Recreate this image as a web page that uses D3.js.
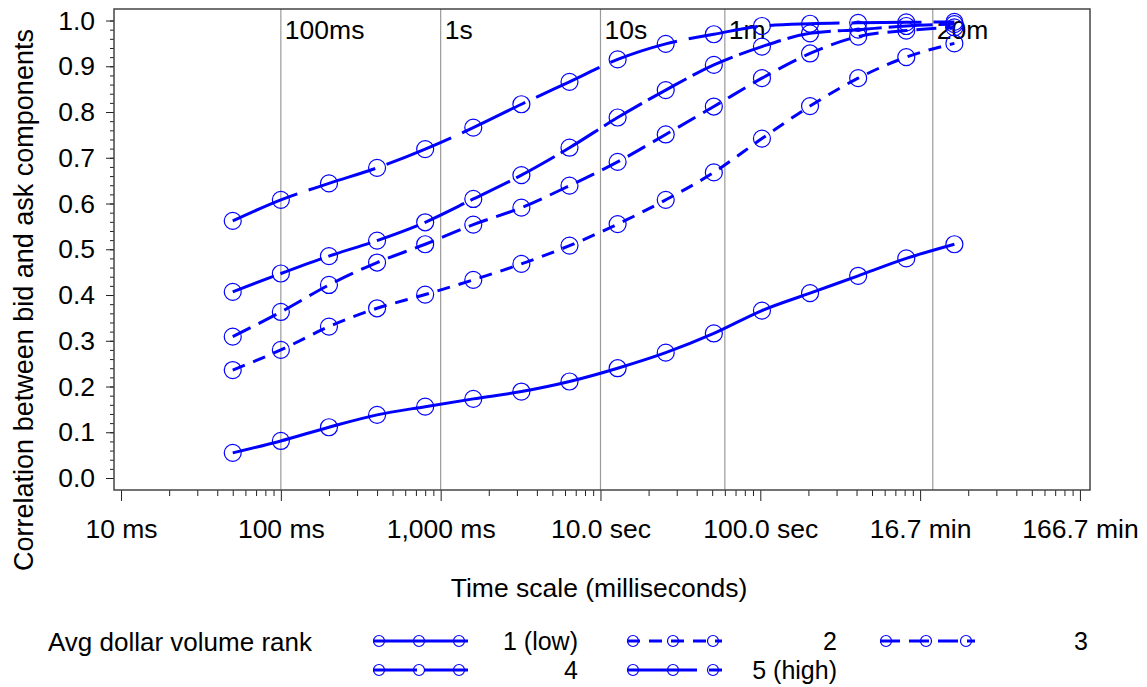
<!DOCTYPE html>
<html>
<head>
<meta charset="utf-8">
<script src="https://cdn.jsdelivr.net/npm/d3@7"></script>
<style>
  body { margin: 0; background: #fff; }
  text { font-family: Arial, "Liberation Sans", sans-serif; fill: #000; }
</style>
</head>
<body>
<svg width="1147" height="687"></svg>
<script>
// time scale of each point, in milliseconds
var timeMs = [50, 100, 200, 400, 800, 1600, 3200, 6400, 12800, 25600, 51200,
    102400, 204800, 409600, 819200, 1638400];

// correlation by avg dollar volume rank
var rank1 = [0.055, 0.081, 0.111, 0.138, 0.156, 0.173, 0.189, 0.211, 0.240, 0.274,
    0.316, 0.366, 0.404, 0.442, 0.480, 0.511];
var rank2 = [0.236, 0.280, 0.331, 0.371, 0.401, 0.433, 0.468, 0.508, 0.555, 0.608,
    0.668, 0.742, 0.813, 0.874, 0.920, 0.950];
var rank3 = [0.309, 0.363, 0.422, 0.471, 0.511, 0.554, 0.591, 0.639, 0.691, 0.751,
    0.812, 0.874, 0.928, 0.965, 0.978, 0.985];
var rank4 = [0.407, 0.447, 0.485, 0.519, 0.559, 0.610, 0.662, 0.722, 0.788, 0.848,
    0.903, 0.943, 0.972, 0.980, 0.988, 0.992];
var rank5 = [0.562, 0.608, 0.644, 0.678, 0.719, 0.766, 0.817, 0.866, 0.915, 0.949,
    0.970, 0.988, 0.993, 0.995, 0.996, 0.997];

var rankNames = ["1 (low)", "2", "3", "4", "5 (high)"];

var xTickValues = [10, 100, 1000, 10000, 100000, 1000000, 10000000];
var xTickLabels = ["10 ms", "100 ms", "1,000 ms", "10.0 sec", "100.0 sec", "16.7 min", "166.7 min"];

var refValues = [100, 1000, 10000, 60000, 1200000];
var refLabels = ["100ms", "1s", "10s", "1m", "20m"];

var yTickValues = [0, 0.1, 0.2, 0.3, 0.4, 0.5, 0.6, 0.7, 0.8, 0.9, 1.0];

var allRanks = [rank1, rank2, rank3, rank4, rank5];
var dashes = [null, "13,9", "20,9", "44,7", "70,12"];
var blue = "#0000ff";

var svg = d3.select("svg");
var plotLeft = 114, plotRight = 1090, plotTop = 9, plotBottom = 490;

var x = d3.scaleLog()
    .domain([Math.pow(10, 0.956), Math.pow(10, 7.063)])
    .range([plotLeft, plotRight]);

var y = d3.scaleLinear()
    .domain([-0.0262, 1.0252])
    .range([plotBottom, plotTop]);

// reference lines with labels at top
svg.selectAll(".ref")
    .data(refValues)
    .enter().append("line")
    .attr("class", "ref")
    .attr("x1", function(d) { return x(d); })
    .attr("x2", function(d) { return x(d); })
    .attr("y1", plotTop)
    .attr("y2", plotBottom)
    .attr("stroke", "#9a9a9a")
    .attr("stroke-width", 1.2);

svg.selectAll(".refLabel")
    .data(refValues)
    .enter().append("text")
    .attr("class", "refLabel")
    .attr("x", function(d) { return x(d) + 4; })
    .attr("y", 39)
    .style("font-size", "26.5px")
    .text(function(d, i) { return refLabels[i]; });

// x axis, major and minor ticks
var minorX = [];
for (var e = 1; e < 7; e++) {
    for (var m = 2; m < 10; m++) minorX.push(m * Math.pow(10, e));
}
svg.append("g")
    .attr("transform", "translate(0," + plotBottom + ")")
    .call(d3.axisBottom(x).tickValues(minorX).tickSize(6).tickFormat(""))
    .call(function(g) { g.select(".domain").remove(); });

var xAxis = svg.append("g")
    .attr("transform", "translate(0," + plotBottom + ")")
    .call(d3.axisBottom(x)
        .tickValues(xTickValues)
        .tickSize(11)
        .tickPadding(18)
        .tickFormat(function(d, i) { return xTickLabels[i]; }));
xAxis.select(".domain").remove();
xAxis.selectAll("text").style("font-size", "26.5px").attr("fill", "#000");

// y axis, major and minor ticks
svg.append("g")
    .attr("transform", "translate(" + plotLeft + ",0)")
    .call(d3.axisLeft(y).tickValues(d3.range(0, 1.001, 0.02)).tickSize(4).tickFormat(""))
    .call(function(g) { g.select(".domain").remove(); });

var yAxis = svg.append("g")
    .attr("transform", "translate(" + plotLeft + ",0)")
    .call(d3.axisLeft(y)
        .tickValues(yTickValues)
        .tickSize(8)
        .tickPadding(11)
        .tickFormat(d3.format(".1f")));
yAxis.select(".domain").remove();
yAxis.selectAll("text").style("font-size", "26.5px").attr("fill", "#000");

svg.selectAll(".tick line").attr("stroke", "#222");

// frame
svg.append("rect")
    .attr("x", plotLeft)
    .attr("y", plotTop)
    .attr("width", plotRight - plotLeft)
    .attr("height", plotBottom - plotTop)
    .attr("fill", "none")
    .attr("stroke", "#444")
    .attr("stroke-width", 1.5);

// series lines
var line = d3.line()
    .x(function(d, i) { return x(timeMs[i]); })
    .y(function(d) { return y(d); })
    .curve(d3.curveMonotoneX);

svg.selectAll(".series")
    .data(allRanks)
    .enter().append("path")
    .attr("class", "series")
    .attr("d", line)
    .attr("fill", "none")
    .attr("stroke", blue)
    .attr("stroke-width", 3)
    .attr("stroke-dasharray", function(d, i) { return dashes[i]; });

// circle markers
allRanks.forEach(function(r) {
    svg.append("g").selectAll("circle")
        .data(r)
        .enter().append("circle")
        .attr("cx", function(d, i) { return x(timeMs[i]); })
        .attr("cy", function(d) { return y(d); })
        .attr("r", 8.5)
        .attr("fill", "none")
        .attr("stroke", blue)
        .attr("stroke-width", 1.2);
});

// axis titles
svg.append("text")
    .attr("x", 599)
    .attr("y", 597)
    .attr("text-anchor", "middle")
    .style("font-size", "26.5px")
    .text("Time scale (milliseconds)");

svg.append("text")
    .attr("transform", "translate(33,300) rotate(-90)")
    .attr("text-anchor", "middle")
    .style("font-size", "27px")
    .text("Correlation between bid and ask components");

// legend
svg.append("text")
    .attr("x", 48)
    .attr("y", 651)
    .style("font-size", "26px")
    .text("Avg dollar volume rank");

var legCols = [373, 627, 880];
var legEnds = [578, 837, 1088];
var legRows = [641, 670];

rankNames.forEach(function(name, i) {
    var col = i % 3, row = Math.floor(i / 3);
    var x0 = legCols[col], cy = legRows[row];
    var g = svg.append("g");
    g.append("line")
        .attr("x1", x0)
        .attr("x2", x0 + 95)
        .attr("y1", cy)
        .attr("y2", cy)
        .attr("stroke", blue)
        .attr("stroke-width", 3)
        .attr("stroke-dasharray", dashes[i]);
    g.selectAll("circle")
        .data([6, 46, 86])
        .enter().append("circle")
        .attr("cx", function(d) { return x0 + d; })
        .attr("cy", cy)
        .attr("r", 5.5)
        .attr("fill", "none")
        .attr("stroke", blue)
        .attr("stroke-width", 1.2);
    g.append("text")
        .attr("x", legEnds[col])
        .attr("y", cy + 9)
        .attr("text-anchor", "end")
        .style("font-size", "25px")
        .text(name);
});
</script>
</body>
</html>
